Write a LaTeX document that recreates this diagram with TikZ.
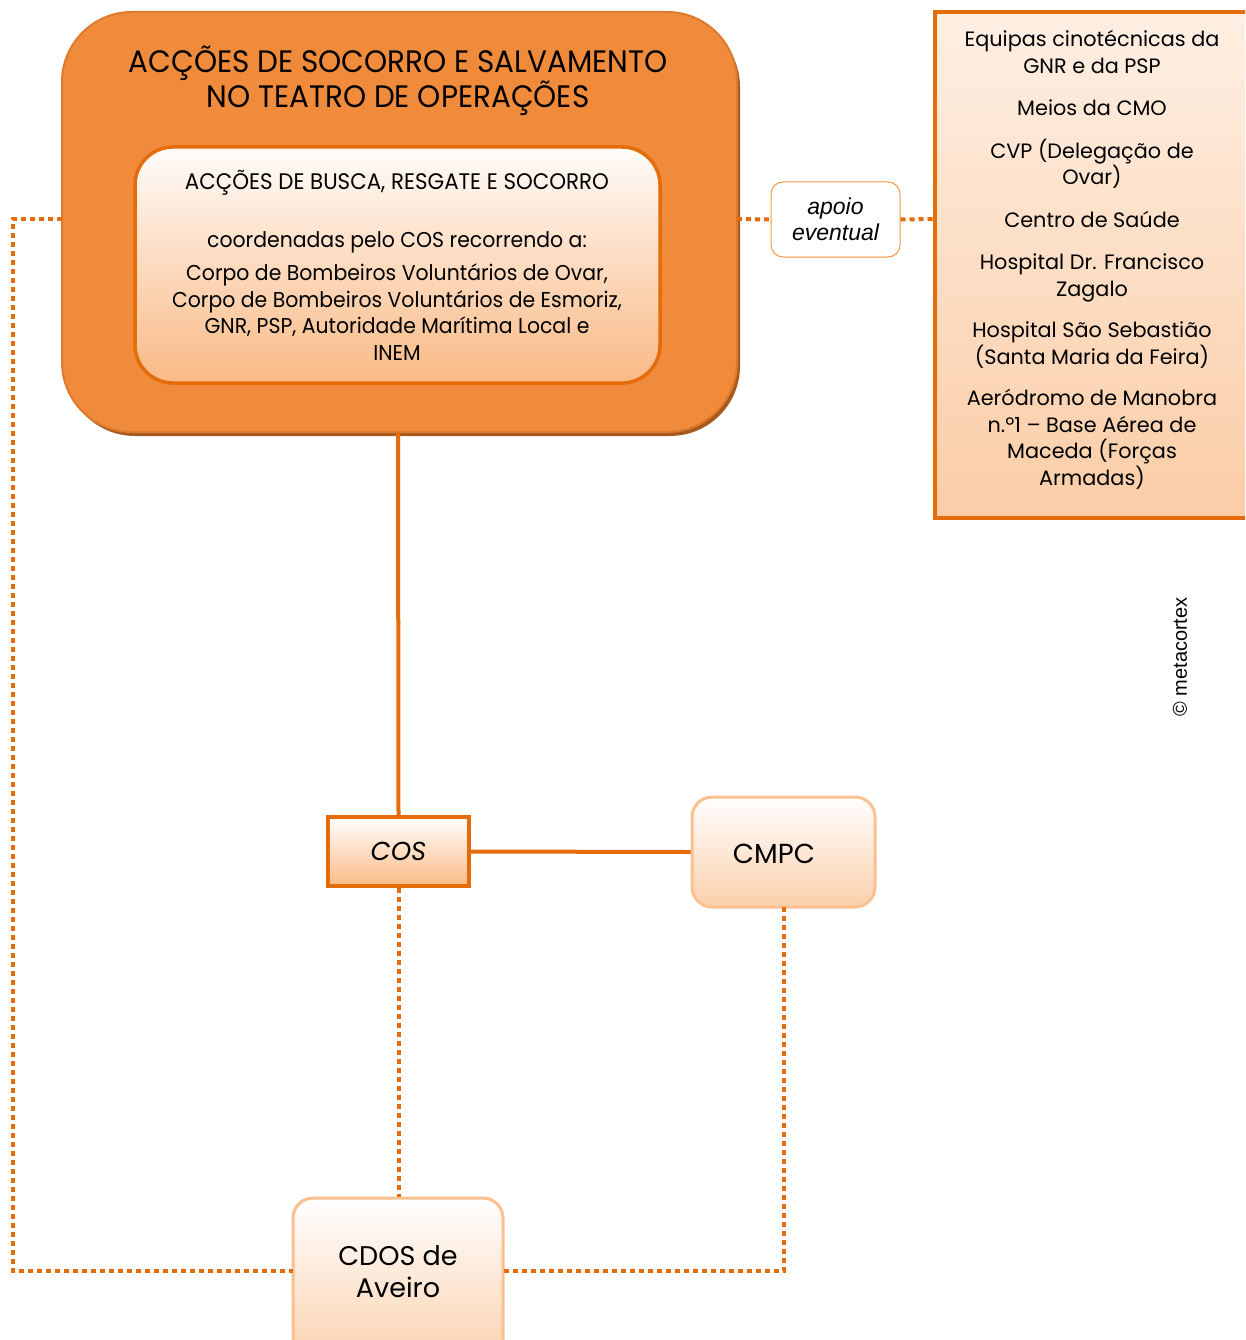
\documentclass[tikz,border=0pt]{standalone}
\usepackage{fontspec}
\setmainfont{Poppins}
\newfontfamily\narrowf[FakeStretch=0.95]{Poppins}
\newfontfamily\arialf{Liberation Sans}
\definecolor{orD}{HTML}{E46C0A}
\definecolor{orM}{HTML}{EF8B3B}
\definecolor{orB}{HTML}{DD7A2C}
\definecolor{orL}{HTML}{FAC090}
\definecolor{orP}{HTML}{F79646}
\definecolor{brn}{HTML}{A85A1E}
\tikzset{
  solidcon/.style={draw=orD, line width=4pt},
  dotcon/.style={draw=orD, line width=4pt, dash pattern=on 5pt off 4pt},
  lightbox/.style={draw=orL, line width=3pt, rounded corners=20pt, top color=white, bottom color=orL!75!white},
}
\begin{document}
\begin{tikzpicture}[x=1pt,y=-1pt]
\useasboundingbox (0,0) rectangle (1245,1340);
\clip (0,0) rectangle (1245,1340);

% big box
\fill[brn, rounded corners=70pt] (65,17) rectangle (740,436);
\node[draw=orB, line width=2pt, fill=orM, rounded corners=70pt, minimum width=675pt, minimum height=420pt, inner sep=0pt] (big) at (399.5,222) {};
\node[font=\narrowf\fontsize{31}{35}\selectfont, align=center] (title) at (398,81) {ACÇÕES DE SOCORRO E SALVAMENTO\\NO TEATRO DE OPERAÇÕES};

% inner box
\node[draw=orD, line width=3.5pt, rounded corners=38pt, top color=white!95!orL, bottom color=orL!85!orP, minimum width=525pt, minimum height=236pt, inner sep=0pt] (inner) at (397.5,265) {};
\node[font=\narrowf\fontsize{22.5}{25}\selectfont] (ih) at (397,183) {ACÇÕES DE BUSCA, RESGATE E SOCORRO};
\node[font=\narrowf\fontsize{21.5}{25}\selectfont] (ic) at (397,242) {coordenadas pelo COS recorrendo a:};
\node[font=\narrowf\fontsize{21.5}{26.7}\selectfont, align=center] (il) at (397,312) {Corpo de Bombeiros Voluntários de Ovar,\\Corpo de Bombeiros Voluntários de Esmoriz,\\GNR, PSP, Autoridade Marítima Local e\\INEM};

% apoio eventual
\node[draw=orP, line width=1pt, rounded corners=12pt, fill=white, minimum width=129pt, minimum height=75pt, inner sep=0pt, align=center, font=\arialf\itshape\fontsize{23}{26}\selectfont] (apoio) at (835.5,219.5) {apoio\\eventual};

% right box
\node[draw=orD, line width=4pt, top color=orL!25!white, bottom color=orL!80!white, minimum width=330pt, minimum height=506pt, inner sep=0pt] (right) at (1100,265) {};
\node[font=\fontsize{20.8}{26.5}\selectfont, align=center] (rtext) at (1092,260) {Equipas cinotécnicas da\\GNR e da PSP\\[16pt]Meios da CMO\\[16pt]CVP (Delegação de\\Ovar)\\[16pt]Centro de Saúde\\[16pt]Hospital Dr. Francisco\\Zagalo\\[15pt]Hospital São Sebastião\\(Santa Maria da Feira)\\[15pt]Aeródromo de Manobra\\n.º1 – Base Aérea de\\Maceda (Forças\\Armadas)};

% COS
\node[draw=orD, line width=3.5pt, top color=white, bottom color=orL!85!orP, minimum width=141pt, minimum height=69pt, inner sep=0pt, font=\itshape\fontsize{26}{30}\selectfont] (cos) at (398.5,851.5) {COS};

% CMPC
\node[lightbox, minimum width=183pt, minimum height=110pt, inner sep=0pt] (cmpc) at (783.5,852) {};
\node[font=\fontsize{27.5}{32}\selectfont] (cmpct) at (774,854) {CMPC};

% CDOS
\node[lightbox, minimum width=210pt, minimum height=170pt, inner sep=0pt] (cdos) at (398,1283) {};
\node[font=\fontsize{27}{32}\selectfont, align=center] (cdost) at (398,1272) {CDOS de\\Aveiro};

% connectors
\coordinate (bigS) at (398,432);
\draw[solidcon] (bigS) -- (cos.north);
\draw[solidcon] (cos.east) -- (cmpc.west);
\draw[dotcon] (cos.south) -- (cos.south |- cdos.north);
\coordinate (cm1) at (784,907);
\coordinate (cm2) at (784,1271);
\coordinate (cdr) at (503,1271);
\draw[dotcon] (cm1) -- (cm2) -- (cdr);
\coordinate (bl) at (62,219);
\coordinate (l1) at (13,219);
\coordinate (l2) at (13,1271);
\coordinate (cdl) at (293,1271);
\draw[dotcon] (bl) -- (l1) -- (l2) -- (cdl);
\coordinate (br) at (737,219);
\draw[dotcon] (br) -- (apoio.west);
\coordinate (rl) at (933,219);
\draw[dotcon] (apoio.east) -- (rl);

% watermark
\node[rotate=90, font=\arialf\fontsize{20}{24}\selectfont] (wm) at (1180,657) {© metacortex};
\end{tikzpicture}
\end{document}
